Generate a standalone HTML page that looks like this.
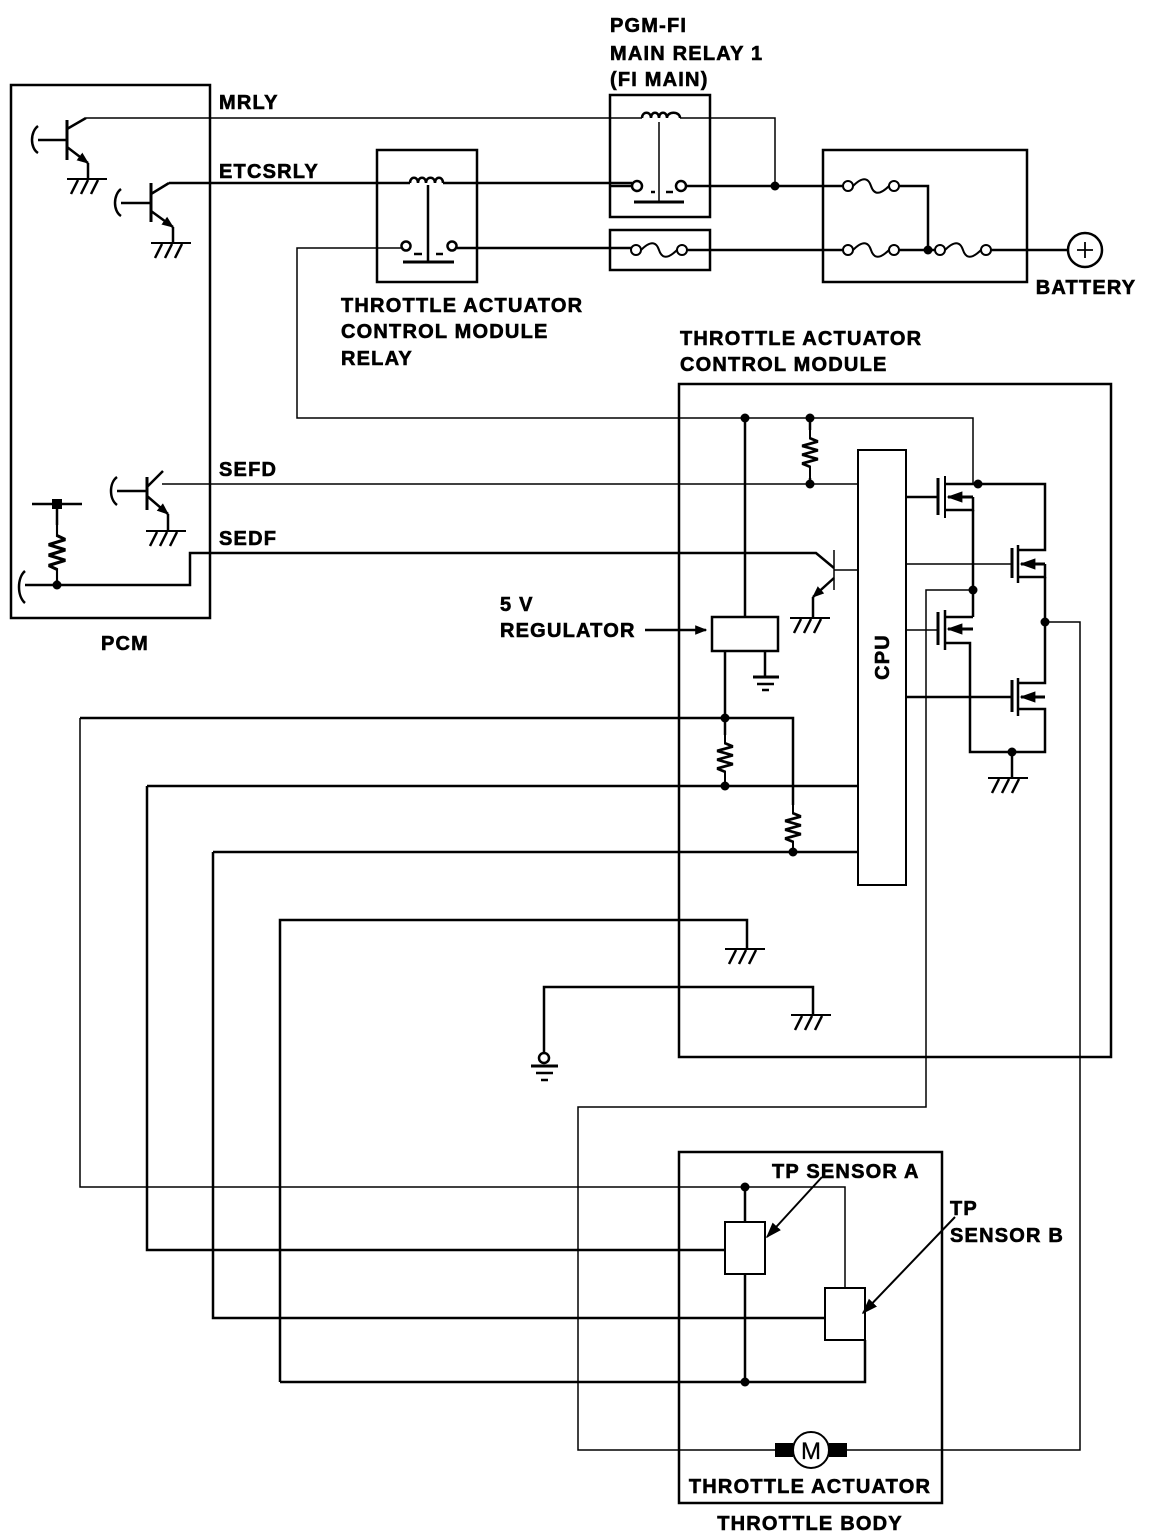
<!DOCTYPE html>
<html><head><meta charset="utf-8"><style>
html,body{margin:0;padding:0;background:#fff}
svg{display:block}
text{font-family:"Liberation Sans",Arial,sans-serif;font-weight:bold;font-size:20px;fill:#000;stroke:#000;stroke-width:0.6;letter-spacing:1.2px}
</style></head><body>
<svg width="1152" height="1534" viewBox="0 0 1152 1534" xmlns="http://www.w3.org/2000/svg">
<defs>
<g id="gnd" fill="none" stroke="#000">
<line x1="-20" y1="0" x2="20" y2="0" stroke-width="2"/>
<path d="M-16,15 L-9,1 M-6,15 L1,1 M4,15 L11,1" stroke-width="2.5"/>
</g>
<g id="resv" fill="none" stroke="#000" stroke-width="2.5">
<path d="M0,0 V12 L10,15 L-10,19 L10,23 L-10,27 L10,31 L-10,35 L0,38 V50"/>
</g>
<g id="fuse" fill="none" stroke="#000" stroke-width="2">
<circle cx="0" cy="0" r="5" fill="#fff"/>
<circle cx="46" cy="0" r="5" fill="#fff"/>
<path d="M5,0 C14,-9 20,-9 23,0 C26,9 32,9 41,0"/>
</g>
<marker id="ah" viewBox="0 0 10 10" refX="9" refY="5" markerWidth="12" markerHeight="12" orient="auto" markerUnits="userSpaceOnUse">
<path d="M0,1 L10,5 L0,9 z" fill="#000"/>
</marker>
<marker id="ah2" viewBox="0 0 10 10" refX="9" refY="5" markerWidth="16" markerHeight="16" orient="auto" markerUnits="userSpaceOnUse">
<path d="M0,1.5 L10,5 L0,8.5 z" fill="#000"/>
</marker>
</defs>

<g fill="none" stroke="#000" stroke-width="2.5">
<rect x="11" y="85" width="199" height="533"/>
<line x1="67" y1="120" x2="67" y2="160" stroke-width="3"/>
<line x1="38" y1="140" x2="67" y2="140"/>
<path d="M38,126 C30,132 30,148 38,153"/>
<line x1="67" y1="129" x2="86" y2="118"/>
<line x1="67" y1="147" x2="88" y2="163" marker-end="url(#ah)"/>
<line x1="88" y1="163" x2="88" y2="178"/>
<line x1="151" y1="183" x2="151" y2="222" stroke-width="3"/>
<line x1="121" y1="203" x2="151" y2="203"/>
<path d="M121,189 C113,195 113,211 121,216"/>
<line x1="151" y1="194" x2="169" y2="183"/>
<line x1="151" y1="211" x2="173" y2="227" marker-end="url(#ah)"/>
<line x1="173" y1="227" x2="173" y2="242"/>
<line x1="147" y1="477" x2="147" y2="510" stroke-width="3"/>
<line x1="117" y1="491" x2="147" y2="491"/>
<path d="M117,477 C109,483 109,499 117,505"/>
<line x1="147" y1="487" x2="163" y2="471"/>
<line x1="147" y1="496" x2="168" y2="514" marker-end="url(#ah)"/>
<line x1="168" y1="514" x2="168" y2="530"/>
<line x1="32" y1="504" x2="82" y2="504"/>
<line x1="57" y1="504" x2="57" y2="525"/>
<use href="#resv" transform="translate(57,520) scale(0.85,1.3)"/>
<line x1="57" y1="580" x2="57" y2="585"/>
<path d="M25,585 H190 V553 H210"/>
<path d="M25,571 C17,578 17,596 25,603"/>

<path d="M86,118 H642 M680,118 H775 V186" stroke-width="1.5"/>
<path d="M169,183 H410 M443,183 H632"/>
<path d="M686,186 H843"/>
<path d="M410,183 C410,176 418,176 418,183 C418,176 426,176 426,183 C426,176 435,176 435,183 C435,176 443,176 443,183"/>
<line x1="428" y1="185" x2="428" y2="262"/>
<line x1="403" y1="262" x2="454" y2="262" stroke-width="3"/>
<line x1="414" y1="254" x2="422" y2="254"/><line x1="436" y1="254" x2="443" y2="254"/>
<rect x="377" y="150" width="100" height="132"/>
<circle cx="406" cy="246" r="4.5" fill="#fff"/>
<circle cx="452" cy="246" r="4.5" fill="#fff"/>
<path d="M401,248 H297 V418 H973 V484" stroke-width="1.5"/>
<path d="M457,248 H632"/>
<rect x="610" y="95" width="100" height="122"/>
<path d="M642,118 C642,111 651,111 651,118 C651,111 659,111 659,118 C659,111 667,111 667,118 C667,111 680,111 680,118"/>
<line x1="659" y1="122" x2="659" y2="202" stroke-width="1.5"/>
<line x1="634" y1="202" x2="684" y2="202" stroke-width="3"/>
<line x1="651" y1="192" x2="655" y2="192"/><line x1="666" y1="192" x2="673" y2="192"/>
<circle cx="637" cy="186" r="5" fill="#fff"/>
<circle cx="681" cy="186" r="5" fill="#fff"/>
<line x1="610" y1="186" x2="632" y2="186"/>
<rect x="610" y="230" width="100" height="40"/>
<use href="#fuse" transform="translate(636,250)"/>
<path d="M686,250 H843"/>
<rect x="823" y="150" width="204" height="132"/>
<use href="#fuse" transform="translate(848,186)"/>
<use href="#fuse" transform="translate(848,250)"/>
<use href="#fuse" transform="translate(940,250)"/>
<path d="M899,186 H928 V250 M899,250 H935 M991,250 H1068"/>
<circle cx="1085" cy="250" r="17"/>
<path d="M1077,250 H1093 M1085,242 V258" stroke-width="1.8"/>

<rect x="679" y="384" width="432" height="673"/>
<line x1="810" y1="418" x2="810" y2="430"/>
<use href="#resv" transform="translate(810,425) scale(0.8,1.1)"/>
<line x1="810" y1="478" x2="810" y2="484"/>
<line x1="162" y1="484" x2="858" y2="484" stroke-width="1.5"/>
<line x1="745" y1="418" x2="745" y2="617"/>
<rect x="712" y="617" width="66" height="34"/>
<line x1="765" y1="651" x2="765" y2="677"/>
<line x1="753" y1="677" x2="779" y2="677" stroke-width="3"/>
<line x1="757" y1="684" x2="774" y2="684"/>
<line x1="762" y1="690" x2="769" y2="690"/>
<line x1="645" y1="630" x2="706" y2="630" marker-end="url(#ah)"/>
<line x1="725" y1="651" x2="725" y2="718"/>
<path d="M210,553 H816 L834,568"/>
<line x1="834" y1="550" x2="834" y2="590" stroke-width="1.5"/>
<line x1="834" y1="570" x2="858" y2="570" stroke-width="1.5"/>
<line x1="834" y1="578" x2="813" y2="597" marker-end="url(#ah)"/>
<line x1="813" y1="597" x2="813" y2="617"/>
<rect x="858" y="450" width="48" height="435" stroke-width="2"/>
<g>
<line x1="938" y1="478" x2="938" y2="515" stroke-width="3"/>
<line x1="945" y1="476" x2="945" y2="518" stroke-width="2"/>
<line x1="906" y1="497" x2="938" y2="497"/>
<path d="M945,484 H1045 V550 H1018"/>
<path d="M945,510 H973 V497"/>
<line x1="973" y1="497" x2="948" y2="497" marker-end="url(#ah2)" stroke-width="3"/>
<line x1="973" y1="510" x2="973" y2="617"/>
<line x1="1012" y1="548" x2="1012" y2="578" stroke-width="3"/>
<line x1="1018" y1="545" x2="1018" y2="583"/>
<line x1="906" y1="564" x2="1012" y2="564" stroke-width="1.5"/>
<line x1="1045" y1="564" x2="1021" y2="564" marker-end="url(#ah2)" stroke-width="3"/>
<path d="M1045,564 V577 H1018"/>
<path d="M1045,577 V683 H1018"/>
<line x1="938" y1="612" x2="938" y2="645" stroke-width="3"/>
<line x1="945" y1="610" x2="945" y2="650"/>
<line x1="906" y1="630" x2="938" y2="630" stroke-width="1.5"/>
<path d="M945,617 H973"/>
<line x1="973" y1="629" x2="948" y2="629" marker-end="url(#ah2)" stroke-width="3"/>
<path d="M945,643 H970 V752 H1045 V709 H1018"/>
<line x1="1012" y1="680" x2="1012" y2="712" stroke-width="3"/>
<line x1="1018" y1="678" x2="1018" y2="716"/>
<line x1="906" y1="697" x2="1012" y2="697"/>
<line x1="1045" y1="697" x2="1021" y2="697" marker-end="url(#ah2)" stroke-width="3"/>
<line x1="1012" y1="752" x2="1012" y2="777"/>
</g>
<path d="M1045,622 H1080 V1450 H846" stroke-width="1.5"/>
<path d="M973,590 H926 V1107 H578 V1450 H775" stroke-width="1.5"/>

<path d="M80,718 H793 V805"/>
<use href="#resv" transform="translate(793,800) scale(0.8,1.1)"/>
<line x1="793" y1="850" x2="793" y2="852"/>
<line x1="725" y1="718" x2="725" y2="735"/>
<use href="#resv" transform="translate(725,730) scale(0.8,1.1)"/>
<line x1="725" y1="785" x2="725" y2="786"/>
<path d="M147,786 H858"/>
<path d="M213,852 H858"/>
<path d="M80,718 V1187 H845 V1288" stroke-width="1.5"/>
<path d="M147,786 V1250 H725"/>
<path d="M213,852 V1318 H825"/>
<path d="M280,1382 V920 H747 V948"/>
<path d="M280,1382 H865 V1340"/>
<path d="M745,1187 V1222 M745,1274 V1382"/>
<path d="M544,1053 V987 H813 V1014"/>
<circle cx="544" cy="1058" r="5"/>
<line x1="531" y1="1066" x2="558" y2="1066" stroke-width="3"/>
<line x1="536" y1="1073" x2="553" y2="1073"/>
<line x1="541" y1="1080" x2="548" y2="1080"/>

<rect x="679" y="1152" width="263" height="351"/>
<rect x="725" y="1222" width="40" height="52" fill="#fff" stroke-width="2"/>
<rect x="825" y="1288" width="40" height="52" fill="#fff" stroke-width="2"/>
<line x1="822" y1="1177" x2="767" y2="1237" marker-end="url(#ah2)" stroke-width="2"/>
<line x1="955" y1="1217" x2="863" y2="1313" marker-end="url(#ah2)" stroke-width="2"/>
<rect x="775" y="1443" width="18" height="14" fill="#000" stroke="none"/>
<rect x="829" y="1443" width="18" height="14" fill="#000" stroke="none"/>
<circle cx="811" cy="1450" r="18" fill="#fff" stroke-width="2"/>
</g>

<use href="#gnd" transform="translate(87,179)"/>
<use href="#gnd" transform="translate(171,243)"/>
<use href="#gnd" transform="translate(166,531)"/>
<use href="#gnd" transform="translate(810,618)"/>
<use href="#gnd" transform="translate(1008,778)"/>
<use href="#gnd" transform="translate(745,949)"/>
<use href="#gnd" transform="translate(811,1015)"/>

<g fill="#000">
<circle cx="775" cy="186" r="4.5"/>
<circle cx="928" cy="250" r="4.5"/>
<circle cx="745" cy="418" r="4.5"/>
<circle cx="810" cy="418" r="4.5"/>
<circle cx="810" cy="484" r="4.5"/>
<circle cx="978" cy="484" r="4.5"/>
<circle cx="973" cy="590" r="4.5"/>
<circle cx="1045" cy="622" r="4.5"/>
<circle cx="1012" cy="752" r="4.5"/>
<circle cx="725" cy="718" r="4.5"/>
<circle cx="725" cy="786" r="4.5"/>
<circle cx="793" cy="852" r="4.5"/>
<circle cx="745" cy="1187" r="4.5"/>
<circle cx="745" cy="1382" r="4.5"/>
<circle cx="57" cy="585" r="4.5"/>
<rect x="52" y="499" width="10" height="10"/>
</g>

<text x="610" y="32">PGM-FI</text>
<text x="610" y="60">MAIN RELAY 1</text>
<text x="610" y="86">(FI MAIN)</text>
<text x="219" y="109">MRLY</text>
<text x="219" y="178">ETCSRLY</text>
<text x="219" y="476">SEFD</text>
<text x="219" y="545">SEDF</text>
<text x="125" y="650" text-anchor="middle">PCM</text>
<text x="341" y="312">THROTTLE ACTUATOR</text>
<text x="341" y="338">CONTROL MODULE</text>
<text x="341" y="365">RELAY</text>
<text x="680" y="345">THROTTLE ACTUATOR</text>
<text x="680" y="371">CONTROL MODULE</text>
<text x="1086" y="294" text-anchor="middle">BATTERY</text>
<text x="500" y="611">5 V</text>
<text x="500" y="637">REGULATOR</text>
<text x="0" y="0" transform="translate(889,657) rotate(-90)" text-anchor="middle">CPU</text>
<text x="772" y="1178">TP SENSOR A</text>
<text x="950" y="1215">TP</text>
<text x="950" y="1214" dy="28">SENSOR B</text>
<text x="811" y="1459" text-anchor="middle" style="font-weight:normal;font-size:24px;stroke-width:0.3;letter-spacing:0">M</text>
<text x="810" y="1493" text-anchor="middle">THROTTLE ACTUATOR</text>
<text x="810" y="1530" text-anchor="middle">THROTTLE BODY</text>
</svg>
</body></html>
